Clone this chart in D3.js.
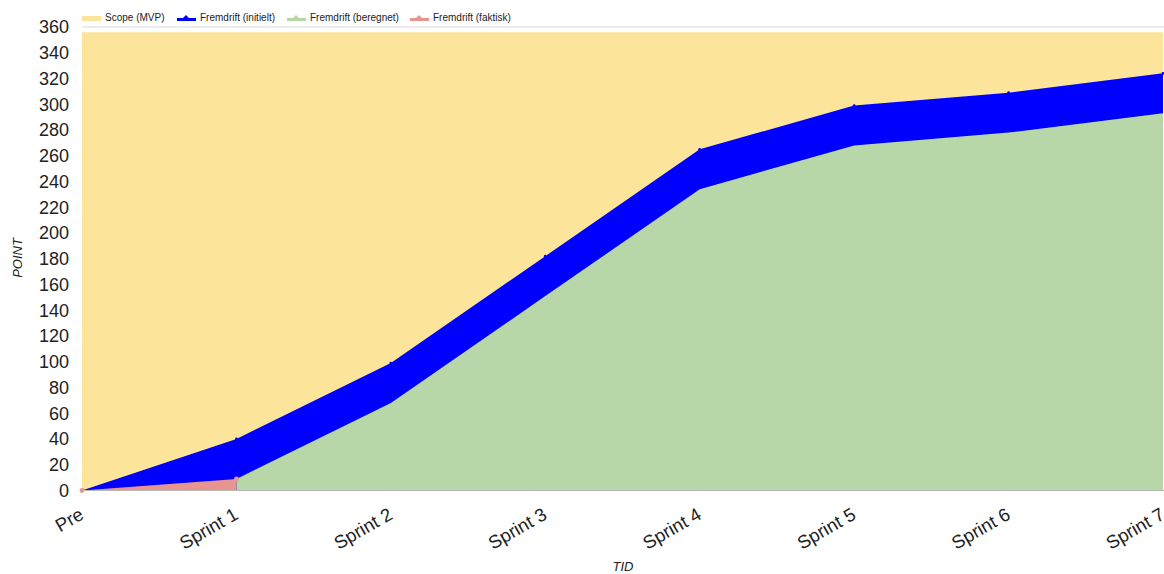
<!DOCTYPE html>
<html>
<head>
<meta charset="utf-8">
<script src="https://cdn.jsdelivr.net/npm/d3@7"></script>
<style>
  body { margin: 0; background: #fff; }
  svg { display: block; font-family: "Liberation Sans", Arial, sans-serif; }
</style>
</head>
<body>
<div id="chart"></div>
<script>
// data
const categories = ["Pre", "Sprint 1", "Sprint 2", "Sprint 3", "Sprint 4", "Sprint 5", "Sprint 6", "Sprint 7"];
const scope = [356, 356, 356, 356, 356, 356, 356, 356];
const initielt = [0, 40, 99, 182, 265, 299, 309, 324];
const beregnet = [null, 9, 68, 151, 234, 268, 278, 293];
const faktisk = [0, 9, null, null, null, null, null, null];
const yTicks = d3.range(0, 361, 20);

const series = [
    {name: "Scope (MVP)", values: scope, color: "#fde49b", dots: false},
    {name: "Fremdrift (initielt)", values: initielt, color: "#0000ff", dots: true},
    {name: "Fremdrift (beregnet)", values: beregnet, color: "#b7d7a8", dots: false},
    {name: "Fremdrift (faktisk)", values: faktisk, color: "#e8948f", dots: true}
];

const width = 1164, height = 574;
const margin = {top: 27, right: 1, bottom: 83.5, left: 82};

const svg = d3.select("#chart").append("svg")
    .attr("width", width)
    .attr("height", height);

const x = d3.scalePoint()
    .domain(categories)
    .range([margin.left, width - margin.right]);

const y = d3.scaleLinear()
    .domain([0, 360])
    .range([height - margin.bottom, margin.top]);

// top gridline (others are hidden under the areas)
svg.append("line")
    .attr("x1", margin.left).attr("x2", width)
    .attr("y1", y(360)).attr("y2", y(360))
    .attr("stroke", "#d9d9d9");

const area = d3.area()
    .defined(d => d.v != null)
    .x(d => x(d.c))
    .y0(y(0))
    .y1(d => y(d.v));

let plot = svg.append("g");

series.forEach(s => {
    let pts = categories.map((c, i) => ({c: c, v: s.values[i]}));
    plot.append("path")
        .datum(pts)
        .attr("d", area)
        .attr("fill", s.color);
});

// small point markers
series.filter(s => s.dots).forEach(s => {
    let pts = categories.map((c, i) => ({c: c, v: s.values[i]})).filter(d => d.v != null);
    plot.selectAll(null)
        .data(pts)
        .join("circle")
        .attr("cx", d => x(d.c))
        .attr("cy", d => y(d.v))
        .attr("r", s.color == "#0000ff" ? 1.4 : 2.4)
        .attr("fill", s.color);
});

// baseline
svg.append("line")
    .attr("x1", margin.left).attr("x2", width)
    .attr("y1", y(0)).attr("y2", y(0))
    .attr("stroke", "#b7b7b7");

// y tick labels
svg.append("g")
    .selectAll("text")
    .data(yTicks)
    .join("text")
    .attr("x", 69)
    .attr("y", d => y(d))
    .attr("dy", "0.35em")
    .attr("text-anchor", "end")
    .attr("font-size", 18)
    .attr("fill", "#222")
    .text(d => d);

// x tick labels, rotated
svg.append("g")
    .selectAll("text")
    .data(categories)
    .join("text")
    .attr("transform", d => "translate(" + (x(d) + 3) + "," + 518 + ") rotate(-30)")
    .attr("text-anchor", "end")
    .attr("font-size", 18.5)
    .attr("fill", "#222")
    .text(d => d);

// axis titles
svg.append("text")
    .attr("transform", "translate(22,258) rotate(-90)")
    .attr("text-anchor", "middle")
    .attr("font-size", 13)
    .attr("font-style", "italic")
    .attr("fill", "#222")
    .text("POINT");

svg.append("text")
    .attr("x", 623)
    .attr("y", 571)
    .attr("text-anchor", "middle")
    .attr("font-size", 13)
    .attr("font-style", "italic")
    .attr("fill", "#222")
    .text("TID");

// legend
const legendX = [82, 177, 287, 410];
let legend = svg.append("g");
series.forEach((s, i) => {
    let g = legend.append("g").attr("transform", "translate(" + legendX[i] + ",0)");
    if (i == 0) {
        g.append("rect").attr("x", 0).attr("y", 16).attr("width", 19).attr("height", 5).attr("fill", s.color);
    } else {
        g.append("path")
            .attr("d", "M0,21 L0,18 L6,18 L9,15 L12,18 L19,18 L19,21 Z")
            .attr("fill", s.color);
    }
    g.append("text")
        .attr("x", 23)
        .attr("y", 21)
        .attr("font-size", 10)
        .attr("fill", "#222")
        .text(s.name);
});
</script>
</body>
</html>
